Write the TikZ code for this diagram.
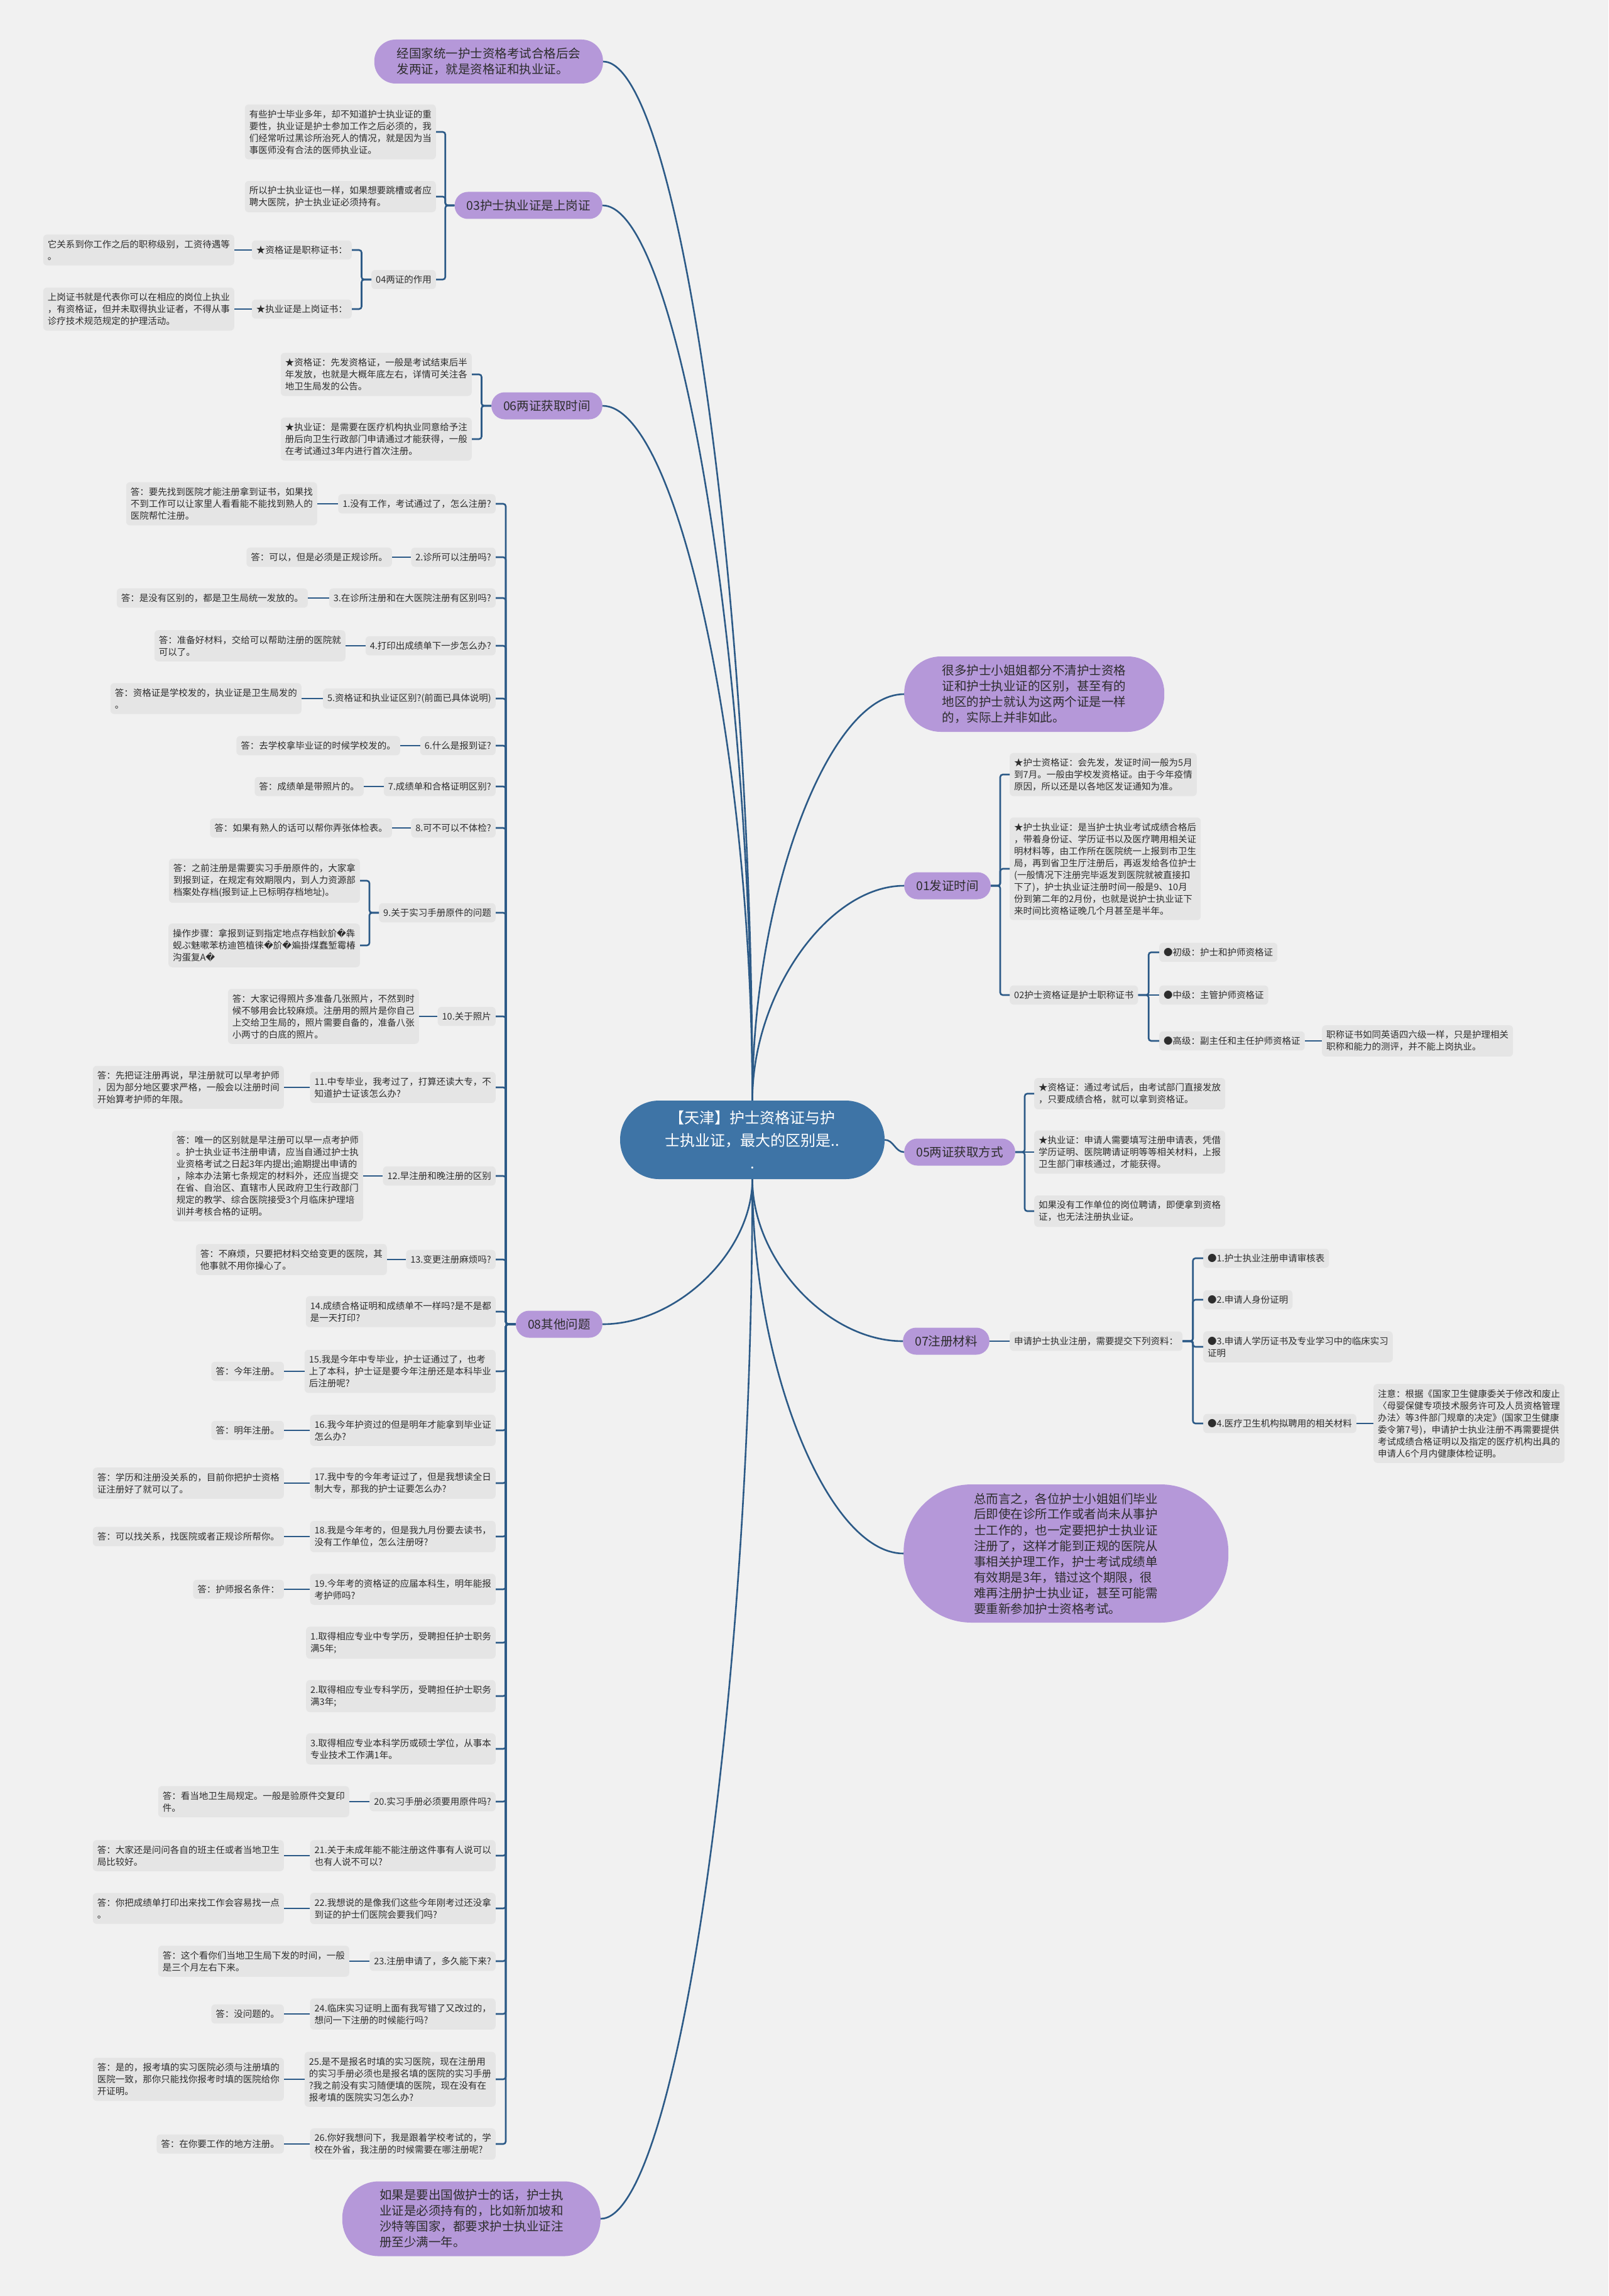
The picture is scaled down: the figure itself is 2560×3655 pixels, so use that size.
\documentclass[tikz,border=0pt]{standalone}
\usepackage{fontspec}
\setmainfont{Noto Sans CJK SC}
\newfontfamily\djv{DejaVu Sans}
\usetikzlibrary{calc}
\definecolor{bgc}{RGB}{241,241,241}
\definecolor{leafc}{RGB}{229,229,229}
\definecolor{purc}{RGB}{181,152,217}
\definecolor{rootc}{RGB}{62,116,166}
\definecolor{linec}{RGB}{44,90,135}
\definecolor{txtc}{RGB}{45,45,45}
\newcommand\fsleaf{\fontsize{14.5}{19}\selectfont}
\newcommand\fsmain{\fontsize{19.5}{25}\selectfont}
\newcommand\fsroot{\fontsize{24}{36}\selectfont}
\newcommand\rp{{\djv\char"FFFD}}
\newcommand\lk[2]{\draw[conn] (#1.west) -| ($(#1.west)!0.5!(#2.east)$) |- (#2.east);}
\newcommand\rk[2]{\draw[conn] (#1.east) -| ($(#1.east)!0.5!(#2.west)$) |- (#2.west);}
\newcommand\lh[2]{\draw[conn] (#1.west) -- (#2.east);}
\newcommand\rh[2]{\draw[conn] (#1.east) -- (#2.west);}
\newcommand\rootto[2]{\draw[rootln] (#1) .. controls ($(#1)!0.5!(#1|-#2)$) and ($(#2)!0.5!(#2-|#1)$) .. (#2);}
\begin{document}
\begin{tikzpicture}[x=1pt,y=-1pt,
 leaf/.style={fill=leafc, rounded corners=6pt, inner xsep=7pt, inner ysep=8.5pt, font=\fsleaf, align=left, text=txtc},
 mainn/.style={fill=purc, rounded corners=21pt, minimum height=43pt, inner xsep=19pt, inner ysep=4pt, font=\fsmain, text=txtc},
 bub/.style={fill=purc, font=\fsmain, align=left, text=txtc, inner sep=2pt},
 conn/.style={draw=linec, line width=2.6pt, rounded corners=4pt},
 rootln/.style={draw=linec, line width=2.6pt},
]
\useasboundingbox (0,0) rectangle (2560,3655);
\fill[bgc] (0,0) rectangle (2560,3655);

% root
\node[fill=rootc, rounded corners=62pt, minimum width=421pt, minimum height=125pt, font=\fsroot, text=white, align=center, inner sep=2pt] (root) at (1197.5,1814.5) {【天津】护士资格证与护\\士执业证，最大的区别是..\\.};

% left main
\node[bub, anchor=east, minimum width=364pt, minimum height=70pt, rounded corners=34pt] (pA) at (960,98) {经国家统一护士资格考试合格后会\\发两证，就是资格证和执业证。};
\node[mainn, anchor=east] (p03) at (959,327) {03护士执业证是上岗证};
\node[mainn, anchor=east] (p06) at (959,646) {06两证获取时间};
\node[mainn, anchor=east] (p08) at (959,2108) {08其他问题};
\node[bub, anchor=east, minimum width=411pt, minimum height=119pt, rounded corners=58pt] (pB) at (956,3532) {如果是要出国做护士的话，护士执\\业证是必须持有的，比如新加坡和\\沙特等国家，都要求护士执业证注\\册至少满一年。};

% right main
\node[bub, anchor=west, minimum width=414pt, minimum height=120pt, rounded corners=58pt] (pC) at (1439,1105) {很多护士小姐姐都分不清护士资格\\证和护士执业证的区别，甚至有的\\地区的护士就认为这两个证是一样\\的，实际上并非如此。};
\node[mainn, anchor=west] (p01) at (1439,1410) {01发证时间};
\node[mainn, anchor=west] (p05) at (1439,1834) {05两证获取方式};
\node[mainn, anchor=west] (p07) at (1437,2135) {07注册材料};
\node[bub, anchor=west, minimum width=517pt, minimum height=220pt, rounded corners=108pt] (pD) at (1438,2473) {总而言之，各位护士小姐姐们毕业\\后即使在诊所工作或者尚未从事护\\士工作的，也一定要把护士执业证\\注册了，这样才能到正规的医院从\\事相关护理工作，护士考试成绩单\\有效期是3年，错过这个期限，很\\难再注册护士执业证，甚至可能需\\要重新参加护士资格考试。};

% 03
\node[leaf, anchor=east] (n03a) at (694,210) {有些护士毕业多年，却不知道护士执业证的重\\要性，执业证是护士参加工作之后必须的，我\\们经常听过黑诊所治死人的情况，就是因为当\\事医师没有合法的医师执业证。};
\node[leaf, anchor=east] (n03b) at (694,313) {所以护士执业证也一样，如果想要跳槽或者应\\聘大医院，护士执业证必须持有。};
\node[leaf, anchor=east] (n04) at (694,445) {04两证的作用};
\node[leaf, anchor=east] (n04a) at (560,398) {★资格证是职称证书：};
\node[leaf, anchor=east] (n04a1) at (373,398) {它关系到你工作之后的职称级别，工资待遇等\\。};
\node[leaf, anchor=east] (n04b) at (560,492) {★执业证是上岗证书：};
\node[leaf, anchor=east] (n04b1) at (373,492) {上岗证书就是代表你可以在相应的岗位上执业\\，有资格证，但并未取得执业证者，不得从事\\诊疗技术规范规定的护理活动。};

% 06
\node[leaf, anchor=east] (n06a) at (751,596) {★资格证：先发资格证，一般是考试结束后半\\年发放，也就是大概年底左右，详情可关注各\\地卫生局发的公告。};
\node[leaf, anchor=east] (n06b) at (751,699) {★执业证：是需要在医疗机构执业同意给予注\\册后向卫生行政部门申请通过才能获得，一般\\在考试通过3年内进行首次注册。};

% 08 questions
\node[leaf, anchor=east] (q1) at (789,802) {1.没有工作，考试通过了，怎么注册?};
\node[leaf, anchor=east] (a1) at (505,802) {答：要先找到医院才能注册拿到证书，如果找\\不到工作可以让家里人看看能不能找到熟人的\\医院帮忙注册。};
\node[leaf, anchor=east] (q2) at (789,887) {2.诊所可以注册吗?};
\node[leaf, anchor=east] (a2) at (624,887) {答：可以，但是必须是正规诊所。};
\node[leaf, anchor=east] (q3) at (789,952) {3.在诊所注册和在大医院注册有区别吗?};
\node[leaf, anchor=east] (a3) at (490,952) {答：是没有区别的，都是卫生局统一发放的。};
\node[leaf, anchor=east] (q4) at (789,1028) {4.打印出成绩单下一步怎么办?};
\node[leaf, anchor=east] (a4) at (550,1028) {答：准备好材料，交给可以帮助注册的医院就\\可以了。};
\node[leaf, anchor=east] (q5) at (789,1112) {5.资格证和执业证区别?(前面已具体说明)};
\node[leaf, anchor=east] (a5) at (480,1112) {答：资格证是学校发的，执业证是卫生局发的\\。};
\node[leaf, anchor=east] (q6) at (789,1187) {6.什么是报到证?};
\node[leaf, anchor=east] (a6) at (637,1187) {答：去学校拿毕业证的时候学校发的。};
\node[leaf, anchor=east] (q7) at (789,1252) {7.成绩单和合格证明区别?};
\node[leaf, anchor=east] (a7) at (579,1252) {答：成绩单是带照片的。};
\node[leaf, anchor=east] (q8) at (789,1318) {8.可不可以不体检?};
\node[leaf, anchor=east] (a8) at (624,1318) {答：如果有熟人的话可以帮你弄张体检表。};
\node[leaf, anchor=east] (q9) at (789,1453) {9.关于实习手册原件的问题};
\node[leaf, anchor=east] (a9a) at (573,1402) {答：之前注册是需要实习手册原件的，大家拿\\到报到证，在规定有效期限内，到人力资源部\\档案处存档(报到证上已标明存档地址)。};
\node[leaf, anchor=east] (a9b) at (573,1505) {操作步骤：拿报到证到指定地点存档鈥斺\rp 犇\\蚬ぷ魅嗽苯枋迪笆植徕\rp 斺\rp 斒掛煤蠢堑霉椿\\沟蛋复A\rp};
\node[leaf, anchor=east] (q10) at (789,1618) {10.关于照片};
\node[leaf, anchor=east] (a10) at (667,1618) {答：大家记得照片多准备几张照片，不然到时\\候不够用会比较麻烦。注册用的照片是你自己\\上交给卫生局的，照片需要自备的，准备八张\\小两寸的白底的照片。};
\node[leaf, anchor=east] (q11) at (789,1731) {11.中专毕业，我考过了，打算还读大专，不\\知道护士证该怎么办?};
\node[leaf, anchor=east] (a11) at (452,1731) {答：先把证注册再说，早注册就可以早考护师\\，因为部分地区要求严格，一般会以注册时间\\开始算考护师的年限。};
\node[leaf, anchor=east] (q12) at (789,1872) {12.早注册和晚注册的区别};
\node[leaf, anchor=east] (a12) at (578,1872) {答：唯一的区别就是早注册可以早一点考护师\\。护士执业证书注册申请，应当自通过护士执\\业资格考试之日起3年内提出;逾期提出申请的\\，除本办法第七条规定的材料外，还应当提交\\在省、自治区、直辖市人民政府卫生行政部门\\规定的教学、综合医院接受3个月临床护理培\\训并考核合格的证明。};
\node[leaf, anchor=east] (q13) at (789,2005) {13.变更注册麻烦吗?};
\node[leaf, anchor=east] (a13) at (616,2005) {答：不麻烦，只要把材料交给变更的医院，其\\他事就不用你操心了。};
\node[leaf, anchor=east] (q14) at (789,2088) {14.成绩合格证明和成绩单不一样吗?是不是都\\是一天打印?};
\node[leaf, anchor=east] (q15) at (789,2183) {15.我是今年中专毕业，护士证通过了，也考\\上了本科，护士证是要今年注册还是本科毕业\\后注册呢?};
\node[leaf, anchor=east] (a15) at (452,2183) {答：今年注册。};
\node[leaf, anchor=east] (q16) at (789,2277) {16.我今年护资过的但是明年才能拿到毕业证\\怎么办?};
\node[leaf, anchor=east] (a16) at (452,2277) {答：明年注册。};
\node[leaf, anchor=east] (q17) at (789,2361) {17.我中专的今年考证过了，但是我想读全日\\制大专，那我的护士证要怎么办?};
\node[leaf, anchor=east] (a17) at (452,2361) {答：学历和注册没关系的，目前你把护士资格\\证注册好了就可以了。};
\node[leaf, anchor=east] (q18) at (789,2446) {18.我是今年考的，但是我九月份要去读书，\\没有工作单位，怎么注册呀?};
\node[leaf, anchor=east] (a18) at (452,2446) {答：可以找关系，找医院或者正规诊所帮你。};
\node[leaf, anchor=east] (q19) at (789,2530) {19.今年考的资格证的应届本科生，明年能报\\考护师吗?};
\node[leaf, anchor=east] (a19) at (452,2530) {答：护师报名条件：};
\node[leaf, anchor=east] (s1) at (789,2615) {1.取得相应专业中专学历，受聘担任护士职务\\满5年;};
\node[leaf, anchor=east] (s2) at (789,2700) {2.取得相应专业专科学历，受聘担任护士职务\\满3年;};
\node[leaf, anchor=east] (s3) at (789,2784) {3.取得相应专业本科学历或硕士学位，从事本\\专业技术工作满1年。};
\node[leaf, anchor=east] (q20) at (789,2868) {20.实习手册必须要用原件吗?};
\node[leaf, anchor=east] (a20) at (556,2868) {答：看当地卫生局规定。一般是验原件交复印\\件。};
\node[leaf, anchor=east] (q21) at (789,2954) {21.关于未成年能不能注册这件事有人说可以\\也有人说不可以?};
\node[leaf, anchor=east] (a21) at (452,2954) {答：大家还是问问各自的班主任或者当地卫生\\局比较好。};
\node[leaf, anchor=east] (q22) at (789,3038) {22.我想说的是像我们这些今年刚考过还没拿\\到证的护士们医院会要我们吗?};
\node[leaf, anchor=east] (a22) at (452,3038) {答：你把成绩单打印出来找工作会容易找一点\\。};
\node[leaf, anchor=east] (q23) at (789,3122) {23.注册申请了，多久能下来?};
\node[leaf, anchor=east] (a23) at (556,3122) {答：这个看你们当地卫生局下发的时间，一般\\是三个月左右下来。};
\node[leaf, anchor=east] (q24) at (789,3206) {24.临床实习证明上面有我写错了又改过的，\\想问一下注册的时候能行吗?};
\node[leaf, anchor=east] (a24) at (452,3206) {答：没问题的。};
\node[leaf, anchor=east] (q25) at (789,3310) {25.是不是报名时填的实习医院，现在注册用\\的实习手册必须也是报名填的医院的实习手册\\?我之前没有实习随便填的医院，现在没有在\\报考填的医院实习怎么办?};
\node[leaf, anchor=east] (a25) at (452,3310) {答：是的，报考填的实习医院必须与注册填的\\医院一致，那你只能找你报考时填的医院给你\\开证明。};
\node[leaf, anchor=east] (q26) at (789,3413) {26.你好我想问下，我是跟着学校考试的，学\\校在外省，我注册的时候需要在哪注册呢?};
\node[leaf, anchor=east] (a26) at (452,3413) {答：在你要工作的地方注册。};

% 01
\node[leaf, anchor=west] (r01a) at (1607,1233) {★护士资格证：会先发，发证时间一般为5月\\到7月。一般由学校发资格证。由于今年疫情\\原因，所以还是以各地区发证通知为准。};
\node[leaf, anchor=west] (r01b) at (1607,1383) {★护士执业证：是当护士执业考试成绩合格后\\，带着身份证、学历证书以及医疗聘用相关证\\明材料等，由工作所在医院统一上报到市卫生\\局，再到省卫生厅注册后，再返发给各位护士\\(一般情况下注册完毕返发到医院就被直接扣\\下了)，护士执业证注册时间一般是9、10月\\份到第二年的2月份，也就是说护士执业证下\\来时间比资格证晚几个月甚至是半年。};
\node[leaf, anchor=west] (r02) at (1607,1584) {02护士资格证是护士职称证书};
\node[leaf, anchor=west] (r02a) at (1845,1516) {●初级：护士和护师资格证};
\node[leaf, anchor=west] (r02b) at (1845,1584) {●中级：主管护师资格证};
\node[leaf, anchor=west] (r02c) at (1845,1657) {●高级：副主任和主任护师资格证};
\node[leaf, anchor=west] (r02c1) at (2104,1657) {职称证书如同英语四六级一样，只是护理相关\\职称和能力的测评，并不能上岗执业。};

% 05
\node[leaf, anchor=west] (r05a) at (1646,1741) {★资格证：通过考试后，由考试部门直接发放\\，只要成绩合格，就可以拿到资格证。};
\node[leaf, anchor=west] (r05b) at (1646,1834) {★执业证：申请人需要填写注册申请表，凭借\\学历证明、医院聘请证明等等相关材料，上报\\卫生部门审核通过，才能获得。};
\node[leaf, anchor=west] (r05c) at (1646,1928) {如果没有工作单位的岗位聘请，即便拿到资格\\证，也无法注册执业证。};

% 07
\node[leaf, anchor=west] (r07) at (1607,2135) {申请护士执业注册，需要提交下列资料：};
\node[leaf, anchor=west] (r07a) at (1915,2003) {●1.护士执业注册申请审核表};
\node[leaf, anchor=west] (r07b) at (1915,2069) {●2.申请人身份证明};
\node[leaf, anchor=west] (r07c) at (1915,2144) {●3.申请人学历证书及专业学习中的临床实习\\证明};
\node[leaf, anchor=west] (r07d) at (1915,2266) {●4.医疗卫生机构拟聘用的相关材料};
\node[leaf, anchor=west] (r07d1) at (2186,2266) {注意：根据《国家卫生健康委关于修改和废止\\〈母婴保健专项技术服务许可及人员资格管理\\办法〉等3件部门规章的决定》(国家卫生健康\\委令第7号)，申请护士执业注册不再需要提供\\考试成绩合格证明以及指定的医疗机构出具的\\申请人6个月内健康体检证明。};

% root connectors
\rootto{root.north}{pA.east}
\rootto{root.north}{p03.east}
\rootto{root.north}{p06.east}
\rootto{root.south}{p08.east}
\rootto{root.south}{pB.east}
\rootto{root.north}{pC.west}
\rootto{root.north}{p01.west}
\draw[rootln] (root.east) to[out=0,in=180] (p05.west);
\rootto{root.south}{p07.west}
\rootto{root.south}{pD.west}

% left brackets
\lk{p03}{n03a} \lk{p03}{n03b} \lk{p03}{n04}
\lk{n04}{n04a} \lk{n04}{n04b}
\lh{n04a}{n04a1} \lh{n04b}{n04b1}
\lk{p06}{n06a} \lk{p06}{n06b}
\foreach \q in {q1,q2,q3,q4,q5,q6,q7,q8,q9,q10,q11,q12,q13,q14,q15,q16,q17,q18,q19,s1,s2,s3,q20,q21,q22,q23,q24,q25,q26} {\lk{p08}{\q}}
\foreach \q/\a in {q1/a1,q2/a2,q3/a3,q4/a4,q5/a5,q6/a6,q7/a7,q8/a8,q10/a10,q11/a11,q12/a12,q13/a13,q15/a15,q16/a16,q17/a17,q18/a18,q19/a19,q20/a20,q21/a21,q22/a22,q23/a23,q24/a24,q25/a25,q26/a26} {\lh{\q}{\a}}
\lk{q9}{a9a} \lk{q9}{a9b}

% right brackets
\rk{p01}{r01a} \rk{p01}{r01b} \rk{p01}{r02}
\rk{r02}{r02a} \rh{r02}{r02b} \rk{r02}{r02c}
\rh{r02c}{r02c1}
\rk{p05}{r05a} \rh{p05}{r05b} \rk{p05}{r05c}
\rh{p07}{r07}
\rk{r07}{r07a} \rk{r07}{r07b} \rk{r07}{r07c} \rk{r07}{r07d}
\rh{r07d}{r07d1}
\end{tikzpicture}
\end{document}
